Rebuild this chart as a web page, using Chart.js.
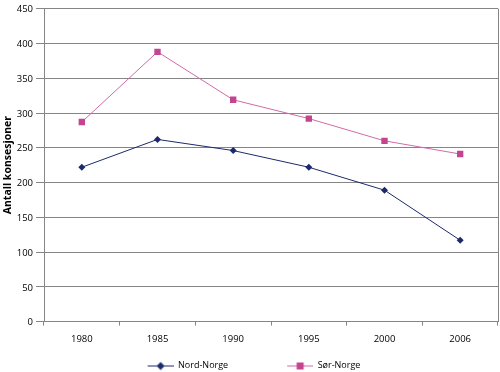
<!DOCTYPE html>
<html>
<head>
<meta charset="utf-8">
<script src="https://cdn.jsdelivr.net/npm/chart.js@4/dist/chart.umd.min.js"></script>
<style>
  html, body { margin: 0; padding: 0; background: #fff; }
  #wrap { width: 500px; height: 372px; }
</style>
</head>
<body>
<div id="wrap"><canvas id="chart" width="500" height="372"></canvas></div>
<script>
const years = ['1980', '1985', '1990', '1995', '2000', '2006'];
const nordNorge = [222, 262, 246, 222, 189, 117];
const sorNorge = [287, 388, 319, 292, 260, 241];

const NAVY = '#1c2a6b';
const PINK = '#c4448f';
const PINK_LINE = '#d16aa8';
const GRID = '#858585';

// legend picture: a line with a marker, placed at the right end of a wider
// transparent canvas so the two legend items get the wide gap of the original
const ICON_GAP = 56;
const legendIcon = (lineColor, markerColor, style) => {
    const c = document.createElement('canvas');
    c.width = 26 + ICON_GAP; c.height = 10;
    const g = c.getContext('2d');
    const x0 = ICON_GAP, cx = ICON_GAP + 13;
    g.strokeStyle = lineColor;
    g.lineWidth = 1;
    g.beginPath(); g.moveTo(x0, 5.5); g.lineTo(x0 + 26, 5.5); g.stroke();
    g.fillStyle = markerColor;
    if (style === 'rectRot') {
        g.beginPath(); g.moveTo(cx, 1.5); g.lineTo(cx + 4, 5.5); g.lineTo(cx, 9.5); g.lineTo(cx - 4, 5.5); g.closePath(); g.fill();
    } else {
        g.fillRect(cx - 3.5, 2, 7, 7);
    }
    return c;
};

const rightBorder = {
    id: 'rightBorder',
    afterDraw(chart) {
        const { ctx, chartArea } = chart;
        ctx.save();
        ctx.strokeStyle = GRID;
        ctx.lineWidth = 1;
        ctx.beginPath();
        ctx.moveTo(Math.round(chartArea.right) + 0.5, chartArea.top);
        ctx.lineTo(Math.round(chartArea.right) + 0.5, chartArea.bottom);
        ctx.stroke();
        ctx.restore();
    }
};

new Chart(document.getElementById('chart'), {
    type: 'line',
    data: {
        labels: years,
        datasets: [{
            label: 'Nord-Norge',
            data: nordNorge,
            borderColor: NAVY,
            backgroundColor: NAVY,
            borderWidth: 1,
            pointStyle: 'rectRot',
            pointRadius: 3.5,
            pointBorderWidth: 0,
            tension: 0
        }, {
            label: 'Sør-Norge',
            data: sorNorge,
            borderColor: PINK_LINE,
            backgroundColor: PINK,
            borderWidth: 1,
            pointStyle: 'rect',
            pointRadius: 4.5,
            pointBorderWidth: 0,
            tension: 0
        }]
    },
    options: {
        responsive: false,
        animation: false,
        // negative left padding: the legend box starts off-canvas so it is
        // centred further left, like the original
        layout: { autoPadding: false, padding: { top: 0, right: 2, left: -46, bottom: -8 } },
        plugins: {
            tooltip: { enabled: false },
            legend: {
                position: 'bottom',
                labels: {
                    usePointStyle: true,
                    pointStyleWidth: 26 + ICON_GAP,
                    boxHeight: 10,
                    padding: 3,
                    color: '#000',
                    font: { family: 'Open Sans', size: 9 },
                    generateLabels: () => [
                        { text: 'Nord-Norge', pointStyle: legendIcon(NAVY, NAVY, 'rectRot'), fontColor: '#000', datasetIndex: 0, lineWidth: 0 },
                        { text: 'Sør-Norge', pointStyle: legendIcon(PINK_LINE, PINK, 'rect'), fontColor: '#000', datasetIndex: 1, lineWidth: 0 }
                    ]
                }
            }
        },
        scales: {
            x: {
                offset: true,
                afterFit: (scale) => { scale.height += 5; },
                grid: { offset: true, drawOnChartArea: false, tickLength: 4, color: GRID },
                border: { color: GRID },
                ticks: { color: '#000', font: { family: 'Open Sans', size: 9.5 }, padding: 8 }
            },
            y: {
                min: 0,
                max: 450,
                afterFit: (scale) => { scale.width = 90; },
                ticks: { stepSize: 50, color: '#000', font: { family: 'Open Sans', size: 9.5 }, padding: 3, labelOffset: 1 },
                grid: { color: GRID, tickLength: 8 },
                border: { color: GRID },
                title: {
                    display: true,
                    text: 'Antall konsesjoner',
                    color: '#000',
                    font: { family: 'Open Sans', size: 10.5, weight: 'bold' },
                    padding: { top: 48, bottom: 2 }
                }
            }
        }
    },
    plugins: [rightBorder]
});
</script>
</body>
</html>
